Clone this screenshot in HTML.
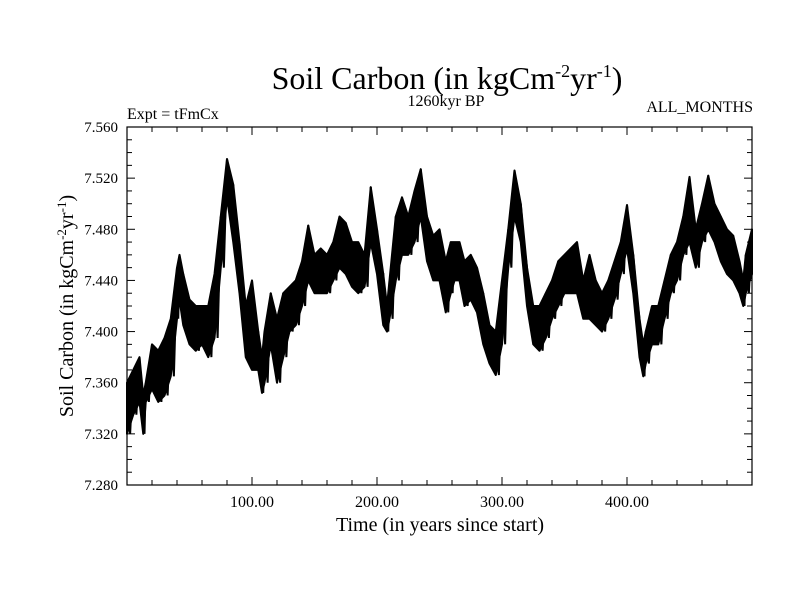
<!DOCTYPE html>
<html><head><meta charset="utf-8"><style>
body{margin:0;background:#fff}
svg{display:block;font-family:"Liberation Serif",serif}
</style></head><body>
<svg width="800" height="600">
<text x="447" y="89" font-size="32" text-anchor="middle">Soil Carbon (in kgCm<tspan dy="-12" font-size="18">-2</tspan><tspan dy="12">yr</tspan><tspan dy="-12" font-size="18">-1</tspan><tspan dy="12">)</tspan></text>
<text x="446" y="106" font-size="16" text-anchor="middle">1260kyr BP</text>
<text x="127" y="119" font-size="16">Expt = tFmCx</text>
<text x="753" y="112" font-size="16" text-anchor="end">ALL_MONTHS</text>
<g id="axes"></g>
<g id="series"></g>
<rect x="127" y="127" width="625" height="358" fill="none" stroke="#000" stroke-width="1.2"/>
<text x="440" y="531" font-size="20" text-anchor="middle">Time (in years since start)</text>
<text transform="translate(73,306) rotate(-90)" font-size="20" text-anchor="middle">Soil Carbon (in kgCm<tspan dy="-7" font-size="13">-2</tspan><tspan dy="7">yr</tspan><tspan dy="-7" font-size="13">-1</tspan><tspan dy="7">)</tspan></text>
</svg>
<script>
const years=[0,5,10,13,15,20,25,30,35,40,42,45,50,55,60,65,70,75,80,85,90,95,100,105,108,110,115,120,125,130,135,140,145,150,155,160,165,170,175,180,185,190,195,200,205,208,210,215,220,225,230,235,240,245,250,255,259,262,266,270,275,280,285,290,295,300,305,310,315,320,325,330,335,340,345,350,355,360,365,370,375,380,385,390,395,400,405,410,413,415,420,425,430,435,440,445,450,455,460,465,470,475,480,485,490,493,495,500];
const highs=[7.36,7.37,7.38,7.35,7.36,7.39,7.385,7.395,7.41,7.45,7.46,7.445,7.425,7.42,7.42,7.42,7.445,7.49,7.535,7.515,7.47,7.42,7.44,7.4,7.38,7.4,7.43,7.41,7.43,7.435,7.44,7.455,7.483,7.46,7.465,7.46,7.47,7.49,7.485,7.47,7.47,7.46,7.513,7.48,7.445,7.42,7.44,7.49,7.505,7.49,7.51,7.527,7.49,7.475,7.48,7.455,7.47,7.47,7.47,7.455,7.46,7.45,7.43,7.405,7.4,7.44,7.48,7.526,7.5,7.45,7.42,7.42,7.43,7.44,7.455,7.46,7.465,7.47,7.44,7.46,7.44,7.43,7.44,7.455,7.47,7.499,7.46,7.41,7.39,7.4,7.42,7.42,7.44,7.46,7.47,7.49,7.521,7.48,7.5,7.522,7.5,7.49,7.48,7.475,7.455,7.44,7.46,7.48];
const lows=[7.32,7.335,7.345,7.32,7.345,7.355,7.345,7.35,7.365,7.41,7.425,7.405,7.39,7.385,7.39,7.38,7.395,7.45,7.505,7.47,7.43,7.38,7.37,7.37,7.352,7.36,7.39,7.36,7.38,7.4,7.405,7.42,7.44,7.43,7.43,7.43,7.44,7.45,7.445,7.435,7.43,7.435,7.47,7.445,7.405,7.4,7.41,7.44,7.46,7.46,7.47,7.49,7.455,7.44,7.44,7.415,7.43,7.44,7.44,7.42,7.425,7.415,7.39,7.375,7.366,7.39,7.45,7.49,7.47,7.42,7.39,7.385,7.395,7.41,7.42,7.43,7.43,7.43,7.41,7.41,7.405,7.4,7.41,7.425,7.445,7.465,7.43,7.38,7.365,7.375,7.39,7.39,7.41,7.43,7.44,7.46,7.47,7.45,7.47,7.48,7.47,7.455,7.445,7.44,7.43,7.42,7.43,7.445];
const xTicks=[100,200,300,400];
const yTicks=[7.28,7.32,7.36,7.40,7.44,7.48,7.52,7.56];
const NS='http://www.w3.org/2000/svg';
const X0=127,X1=752,Y0=485,Y1=127;
const xs=v=>X0+(v-0)/(500-0)*(X1-X0);
const ys=v=>Y0-(v-7.28)/(7.56-7.28)*(Y0-Y1);
const axes=document.getElementById('axes');
function mk(tag,attrs,parent){const e=document.createElementNS(NS,tag);for(const k in attrs)e.setAttribute(k,attrs[k]);parent.appendChild(e);return e;}
for(let v=20;v<500;v+=20){
  const major=v%100===0,len=major?8:5;
  const t1=mk('line',{x1:xs(v),x2:xs(v),y1:Y0,y2:Y0-len,stroke:'#000'},axes);
  
  
  const t2=mk('line',{x1:xs(v),x2:xs(v),y1:Y1,y2:Y1+len,stroke:'#000'},axes);
  
  
}
xTicks.forEach(v=>{
  const t=mk('text',{x:xs(v),y:507,'font-size':16,'text-anchor':'middle'},axes);
  t.textContent=v.toFixed(2);
  
  
});
for(let i=1;i<28;i++){
  const v=7.28+i*0.01,major=i%4===0,len=major?8:5;
  const t1=mk('line',{x1:X0,x2:X0+len,y1:ys(v),y2:ys(v),stroke:'#000'},axes);
  
  
  const t2=mk('line',{x1:X1,x2:X1-len,y1:ys(v),y2:ys(v),stroke:'#000'},axes);
  
  
}
yTicks.forEach(v=>{
  const t=mk('text',{x:118,y:ys(v)+5,'font-size':15,'text-anchor':'end'},axes);
  t.textContent=v.toFixed(3);
  
  
});
const ser=document.getElementById('series');
let band=years.map((y,i)=>xs(y)+','+ys(highs[i])).join(' ')+' '+years.slice().reverse().map((y,j)=>{const i=years.length-1-j;return xs(y)+','+ys(lows[i]);}).join(' ');
const poly=mk('polygon',{points:band,fill:'#000',stroke:'#000','stroke-width':2,'stroke-linejoin':'round'},ser);


let zz=[];years.forEach((y,i)=>{zz.push(xs(y)+','+ys(highs[i]));if(i<years.length-1){zz.push(xs((y+years[i+1])/2)+','+ys(lows[i]));}});
const line=mk('polyline',{points:zz.join(' '),fill:'none',stroke:'#000','stroke-width':2},ser);


</script>
</body></html>
